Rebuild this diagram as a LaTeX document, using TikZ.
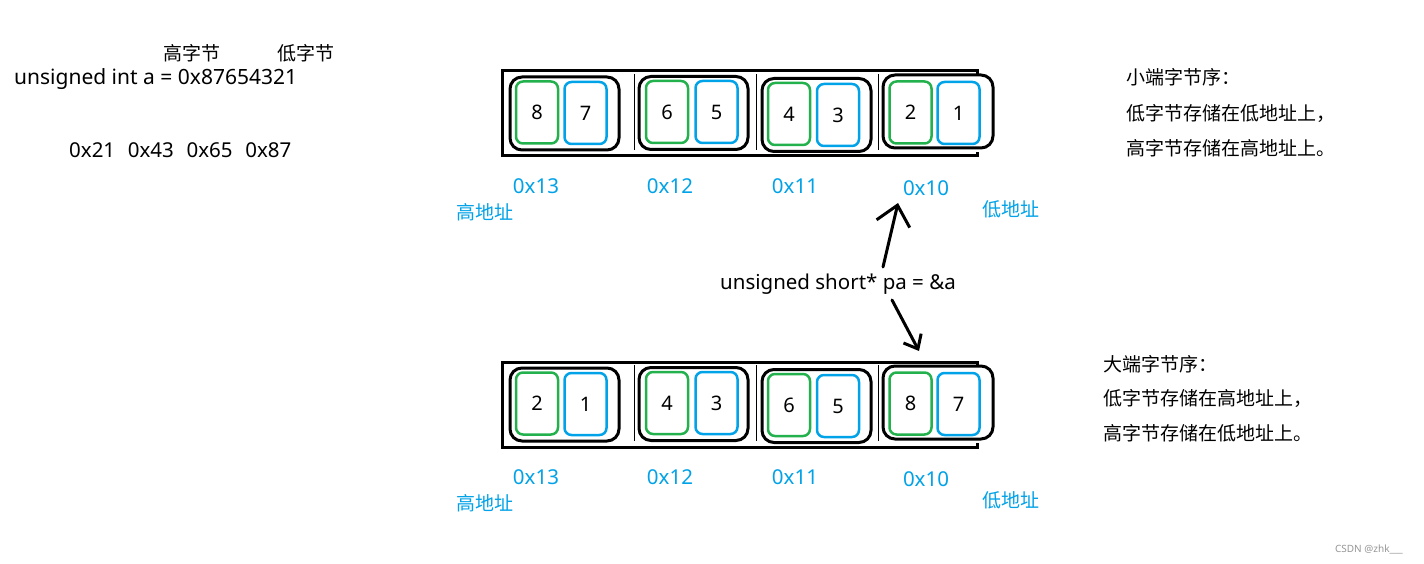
\documentclass[tikz,border=0pt]{standalone}
\usepackage{fontspec}
\setmainfont{Noto Sans}
\newfontfamily\cjk{Noto Sans CJK SC}
\usetikzlibrary{arrows.meta}
\definecolor{cgreen}{RGB}{34,177,76}
\definecolor{cblue}{RGB}{0,162,232}
\definecolor{wmgray}{RGB}{150,150,150}
\tikzset{
  lat/.style={font=\fontsize{20.5}{24}\selectfont, inner sep=0pt},
  zh/.style={font=\cjk\fontsize{19}{23}\selectfont, inner sep=0pt},
  addr/.style={lat, text=cblue},
  zhaddr/.style={zh, text=cblue},
  grp/.style={draw, line width=3pt, rounded corners=12pt, inner sep=0pt, minimum width=109pt, minimum height=73pt},
  gcell/.style={draw=cgreen, line width=2.5pt, rounded corners=7pt, inner sep=0pt, minimum width=42pt, minimum height=62pt, font=\fontsize{20}{24}\selectfont},
  bcell/.style={gcell, draw=cblue},
  outerbox/.style={line width=3pt},
  divider/.style={line width=0.9pt},
  ptr/.style={line width=3pt, line cap=round},
}
\newcommand{\memrow}[8]{%
  \draw[outerbox] (977,74) -- (977,71) -- (502,71) -- (502,156) -- (977,156) -- (977,152);
  \draw[divider] (634,74) -- (634,150);
  \draw[divider] (756,74) -- (756,150);
  \draw[divider] (878,74) -- (878,150);
  \node[grp] (g1) at (564.5,113.5) {};
  \node[grp] (g2) at (693.5,113) {};
  \node[grp] (g3) at (816.5,115) {};
  \node[grp, minimum width=110pt] (g4) at (938,111.5) {};
  \node[gcell] (c1) at (537,112.5) {#1};
  \node[bcell] (c2) at (585.5,113) {#2};
  \node[gcell] (c3) at (667,112) {#3};
  \node[bcell] (c4) at (716.5,112) {#4};
  \node[gcell] (c5) at (789,114) {#5};
  \node[bcell] (c6) at (838,115) {#6};
  \node[gcell] (c7) at (910.5,112.5) {#7};
  \node[bcell] (c8) at (958.5,113) {#8};
  \node[addr] (a13) at (536,186) {0x13};
  \node[addr] (a12) at (670,186) {0x12};
  \node[addr] (a11) at (795,186) {0x11};
  \node[addr] (a10) at (926,188) {0x10};
  \node[zhaddr] (hi) at (485,212) {高地址};
  \node[zhaddr] (lo) at (1011,209) {低地址};
}
\begin{document}
\begin{tikzpicture}[x=1pt,y=-1pt]
\useasboundingbox (0,0) rectangle (1424,564);
\fill[white] (0,0) rectangle (1424,564);

% left explanation
\node[zh] (hb) at (192,53) {高字节};
\node[zh] (lb) at (306,53) {低字节};
\node[lat, anchor=west, font=\fontsize{21}{24}\selectfont] (decl) at (14,79) {unsigned int a = 0x87654321};
\node[lat, anchor=west] (bytes) at (69,150) {0x21\hspace{0.62em}0x43\hspace{0.62em}0x65\hspace{0.62em}0x87};

% top row (little endian)
\begin{scope}[name prefix=t-]
\memrow{8}{7}{6}{5}{4}{3}{2}{1}
\end{scope}
% bottom row (big endian)
\begin{scope}[yshift=-291pt, name prefix=b-]
\memrow{2}{1}{4}{3}{6}{5}{8}{7}
\end{scope}

% right explanations
\node[zh, anchor=west] (le1) at (1126,77) {小端字节序：};
\node[zh, anchor=west] (le2) at (1126,113) {低字节存储在低地址上，};
\node[zh, anchor=west] (le3) at (1126,148) {高字节存储在高地址上。};
\node[zh, anchor=west] (be1) at (1103,364) {大端字节序：};
\node[zh, anchor=west] (be2) at (1103,398) {低字节存储在高地址上，};
\node[zh, anchor=west] (be3) at (1103,433) {高字节存储在低地址上。};

% pointer
\node[lat] (pa) at (838,284) {unsigned short* pa = \&a};
\coordinate (upS) at (883,267);
\coordinate (upE) at (898,203);
\coordinate (dnS) at (892,300);
\coordinate (dnE) at (919,351);
\draw[ptr, -{Straight Barb[length=19pt, width=34pt, line width=3pt]}] (upS) -- (upE);
\draw[ptr, -{Straight Barb[length=12pt, width=20pt, line width=3pt]}] (dnS) -- (dnE);

% watermark
\node[font=\fontsize{10}{12}\selectfont, text=wmgray, inner sep=0pt] (wm) at (1369,549) {CSDN @zhk\_\_\_};
\end{tikzpicture}
\end{document}
